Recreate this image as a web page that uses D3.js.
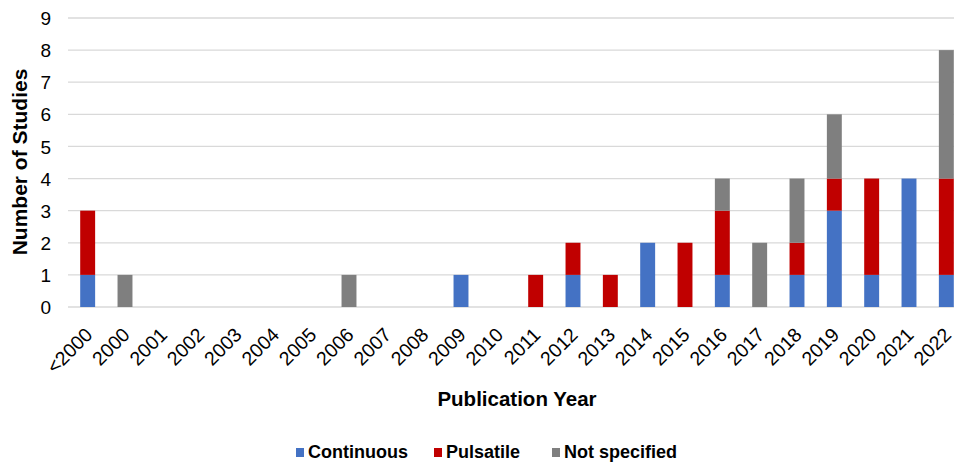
<!DOCTYPE html>
<html><head><meta charset="utf-8">
<script src="https://cdn.jsdelivr.net/npm/d3@7"></script>
<style>body{margin:0;background:#fff}svg{display:block;font-family:Arial,"Liberation Sans",sans-serif}</style>
</head><body><svg id="c" width="954" height="463"></svg>
<script>
const categories = ["<2000","2000","2001","2002","2003","2004","2005","2006","2007","2008","2009","2010","2011","2012","2013","2014","2015","2016","2017","2018","2019","2020","2021","2022"];
const continuous   = [1,0,0,0,0,0,0,0,0,0,1,0,0,1,0,2,0,1,0,1,3,1,4,1];
const pulsatile    = [2,0,0,0,0,0,0,0,0,0,0,0,1,1,1,0,2,2,0,1,1,3,0,3];
const notSpecified = [0,1,0,0,0,0,0,1,0,0,0,0,0,0,0,0,0,1,2,2,2,0,0,4];
const seriesNames = ["Continuous","Pulsatile","Not specified"];
const colors = ["#4472C4","#C00000","#7F7F7F"];
const yTicks = [0,1,2,3,4,5,6,7,8,9];

const svg = d3.select("#c");
const W = 954;
const x = d3.scaleBand().domain(categories).range([69, 965]).paddingInner(0.6).paddingOuter(0.3);
const y = d3.scaleLinear().domain([0, 9]).range([307, 18]);

// gridlines
svg.append("g").selectAll("line").data(yTicks).join("line")
  .attr("x1", 68).attr("x2", W).attr("y1", d => y(d)).attr("y2", d => y(d))
  .attr("stroke", "#d9d9d9").attr("stroke-width", 1.3);

// stacked data
const rows = categories.map((c, i) => ({cat: c, "Continuous": continuous[i], "Pulsatile": pulsatile[i], "Not specified": notSpecified[i]}));
const stack = d3.stack().keys(seriesNames)(rows);
svg.append("g").selectAll("g").data(stack).join("g")
  .attr("fill", (d, i) => colors[i])
  .selectAll("rect").data(d => d.filter(p => p[1] > p[0])).join("rect")
  .attr("x", d => x(d.data.cat)).attr("width", x.bandwidth())
  .attr("y", d => y(d[1])).attr("height", d => y(d[0]) - y(d[1]));

// y axis labels
const yAxis = d3.axisLeft(y).tickValues(yTicks).tickSize(0).tickPadding(0).tickFormat(d3.format("d"));
const ya = svg.append("g").attr("transform", "translate(51,0)").call(yAxis);
ya.select(".domain").remove();
ya.selectAll("text").attr("font-size", 19).attr("fill", "#000").attr("font-family", "Arial, 'Liberation Sans', sans-serif").attr("dy", "0.35em");

// x axis labels
const xAxis = d3.axisBottom(x).tickSize(0).tickPadding(0);
const xa = svg.append("g").attr("transform", "translate(0,307)").call(xAxis);
xa.select(".domain").remove();
xa.selectAll("text")
  .attr("font-size", 19.5).attr("fill", "#000").attr("font-family", "Arial, 'Liberation Sans', sans-serif")
  .attr("text-anchor", "end").attr("dy", null).attr("y", 0)
  .attr("transform", "translate(6,29) rotate(-45)");

// axis titles
svg.append("text").attr("x", 517).attr("y", 406).attr("text-anchor", "middle")
  .attr("font-size", 20.5).attr("font-weight", "bold").text("Publication Year");
svg.append("text").attr("transform", "translate(27,162) rotate(-90)").attr("text-anchor", "middle")
  .attr("font-size", 21).attr("font-weight", "bold").text("Number of Studies");

// legend
const legX = [296, 434, 552];
const lg = svg.append("g").selectAll("g").data(seriesNames).join("g")
  .attr("transform", (d, i) => `translate(${legX[i]},448)`);
lg.append("rect").attr("width", 8).attr("height", 9).attr("fill", (d, i) => colors[i]);
lg.append("text").attr("x", 12).attr("y", 10).attr("font-size", 18).attr("font-weight", "bold").text(d => d);
</script></body></html>
